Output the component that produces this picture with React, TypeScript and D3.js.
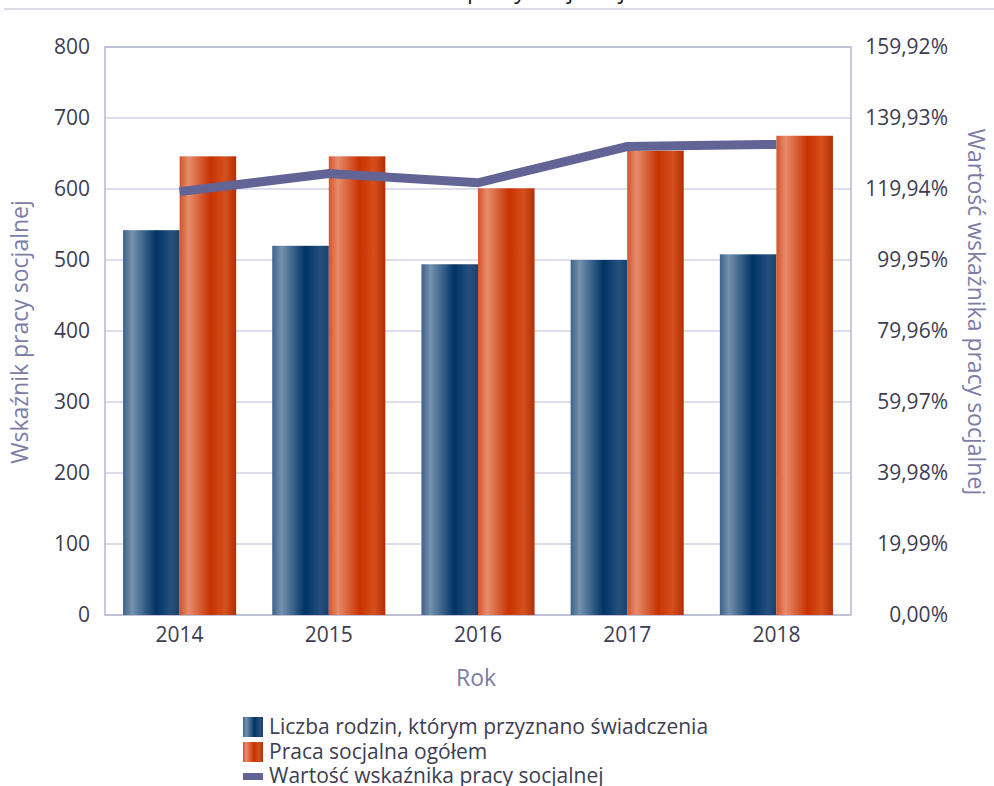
import React from 'react';
import * as d3 from 'd3';

const categories = ['2014', '2015', '2016', '2017', '2018'];
const families = [542, 520, 494, 500, 508];
const socialWork = [646, 646, 601, 654, 675];
const indicator = [119.2, 124.3, 121.7, 131.9, 132.5];
const leftTicks = [0, 100, 200, 300, 400, 500, 600, 700, 800];
const rightTickValues = [0, 19.99, 39.98, 59.97, 79.96, 99.95, 119.94, 139.93, 159.92];
const rightTickLabels = ['0,00%', '19,99%', '39,98%', '59,97%', '79,96%', '99,95%', '119,94%', '139,93%', '159,92%'];
const seriesNames = [
  'Liczba rodzin, którym przyznano świadczenia',
  'Praca socjalna ogółem',
  'Wartość wskaźnika pracy socjalnej',
];
const title = 'Wskaźnik pracy socjalnej';

const W = 994;
const H = 786;
const L = 105, R = 851, T = 47, B = 615;
const FONT = '"Open Sans", "Noto Sans", sans-serif';
const TICK_COLOR = '#3d3d52';
const TITLE_COLOR = '#7c7ca6';
const GRID = '#d2d2e4';
const AXIS = '#b6b6d0';
const LINE = '#636496';
const TICK_FS = 21;
const TITLE_FS = 23;

export default function App() {
  const x = d3.scaleBand().domain(categories).range([L, R]).paddingInner(0).paddingOuter(0);
  const y = d3.scaleLinear().domain([0, 800]).range([B, T]);
  const y2 = d3.scaleLinear().domain([0, 159.92]).range([B, T]);
  const bw = x.bandwidth();
  const pad = bw * 0.121;
  const barW = (bw - 2 * pad) / 2;
  const line = d3.line<number>()
    .x((_, i) => (x(categories[i]) as number) + bw / 2)
    .y((d) => y2(d));

  return (
    <svg width={W} height={H} style={{ position: 'absolute', left: 0, top: 0, background: '#fff' }} fontFamily={FONT}>
      <defs>
        <linearGradient id="gBlue" x1="0" x2="1" y1="0" y2="0">
          <stop offset="0%" stopColor="#3e628a" />
          <stop offset="16%" stopColor="#7592ae" />
          <stop offset="58%" stopColor="#003366" />
          <stop offset="85%" stopColor="#25507d" />
          <stop offset="100%" stopColor="#1b416d" />
        </linearGradient>
        <linearGradient id="gOrange" x1="0" x2="1" y1="0" y2="0">
          <stop offset="0%" stopColor="#d4532b" />
          <stop offset="16%" stopColor="#e68c6c" />
          <stop offset="55%" stopColor="#c83200" />
          <stop offset="80%" stopColor="#d5501f" />
          <stop offset="100%" stopColor="#b32f05" />
        </linearGradient>
      </defs>

      {/* cut-off title */}
      <text x={493} y={-2} textAnchor="middle" fontSize={TITLE_FS} fill="#222">{title}</text>
      <line x1={4} x2={W} y1={9} y2={9} stroke="#dcdce8" strokeWidth={2} />

      {/* gridlines */}
      {leftTicks.map((t) => (
        <line key={'g' + t} x1={L} x2={R} y1={y(t)} y2={y(t)} stroke={GRID} strokeWidth={1.5} />
      ))}
      {/* frame */}
      <rect x={L} y={T} width={R - L} height={B - T} fill="none" stroke={AXIS} strokeWidth={1.5} />

      {/* bars */}
      {categories.map((c, i) => {
        const x0 = (x(c) as number) + pad;
        return (
          <g key={c}>
            <rect x={x0} y={y(families[i])} width={barW} height={B - y(families[i])} fill="url(#gBlue)" />
            <rect x={x0 + barW} y={y(socialWork[i])} width={barW} height={B - y(socialWork[i])} fill="url(#gOrange)" />
          </g>
        );
      })}

      {/* line */}
      <path d={line(indicator) || ''} fill="none" stroke={LINE} strokeWidth={9} strokeLinejoin="miter" />

      {/* left ticks */}
      {leftTicks.map((t) => (
        <text key={'l' + t} x={90} y={y(t)} dy="0.35em" textAnchor="end" fontSize={TICK_FS} fill={TICK_COLOR}>{t}</text>
      ))}
      {/* right ticks */}
      {rightTickValues.map((t, i) => (
        <text key={'r' + i} x={948} y={y2(t)} dy="0.35em" textAnchor="end" fontSize={TICK_FS} fill={TICK_COLOR}>{rightTickLabels[i]}</text>
      ))}
      {/* x ticks */}
      {categories.map((c) => (
        <text key={'x' + c} x={(x(c) as number) + bw / 2} y={635} dy="0.35em" textAnchor="middle" fontSize={TICK_FS} fill={TICK_COLOR}>{c}</text>
      ))}

      {/* axis titles */}
      <text x={476} y={678} dy="0.35em" textAnchor="middle" fontSize={TITLE_FS} fill={TITLE_COLOR}>Rok</text>
      <text transform={`translate(20,332) rotate(-90)`} dy="0.35em" textAnchor="middle" fontSize={TITLE_FS} fill={TITLE_COLOR}>{title}</text>
      <text transform={`translate(976,312) rotate(90)`} dy="0.35em" textAnchor="middle" fontSize={TITLE_FS} fill={TITLE_COLOR}>{seriesNames[2]}</text>

      {/* legend */}
      <rect x={243} y={717} width={20} height={20} fill="url(#gBlue)" />
      <text x={269} y={727} dy="0.35em" fontSize={TICK_FS} fill={TICK_COLOR}>{seriesNames[0]}</text>
      <rect x={243} y={742} width={20} height={20} fill="url(#gOrange)" />
      <text x={269} y={752} dy="0.35em" fontSize={TICK_FS} fill={TICK_COLOR}>{seriesNames[1]}</text>
      <rect x={243} y={773} width={20} height={7} fill={LINE} />
      <text x={269} y={776} dy="0.35em" fontSize={TICK_FS} fill={TICK_COLOR}>{seriesNames[2]}</text>
    </svg>
  );
}
